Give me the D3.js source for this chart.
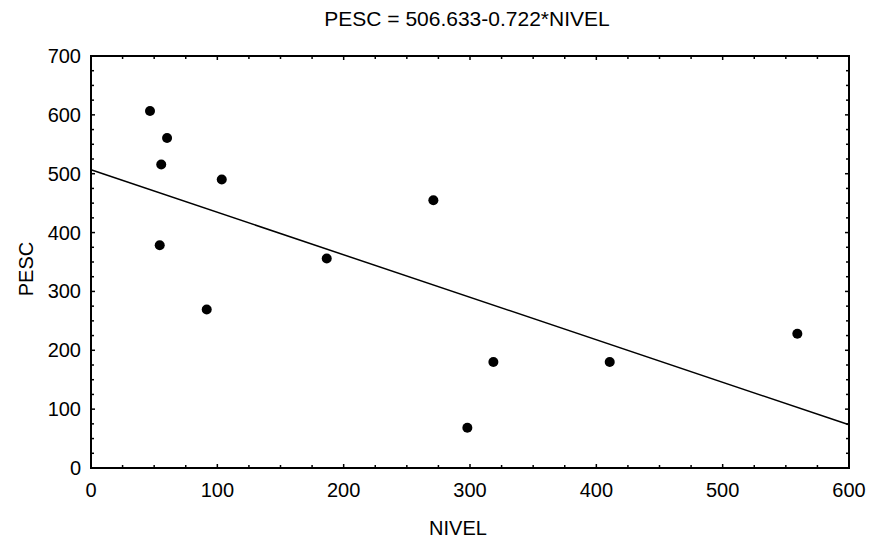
<!DOCTYPE html>
<html>
<head>
<meta charset="utf-8">
<script src="https://cdn.jsdelivr.net/npm/d3@7"></script>
<style>
  body { margin: 0; background: #fff; }
  text { font-family: "Liberation Sans", Arial, sans-serif; fill: #000; }
</style>
</head>
<body>
<div id="chart"></div>
<script>
// data
var nivel = [46.7, 60.2, 55.6, 103.5, 54.4, 91.6, 271, 186.6, 318.5, 410.6, 297.9, 559.1];
var pesc  = [606.6, 560.8, 515.6, 490.2, 378.6, 269.4, 455, 356, 180, 180, 68.4, 228];
var xTicks = [0, 100, 200, 300, 400, 500, 600];
var yTicks = [0, 100, 200, 300, 400, 500, 600, 700];
var intercept = 506.633, slope = -0.722;

var width = 874, height = 540;
var margin = { top: 56, right: 25, bottom: 72, left: 91 };
var w = width - margin.left - margin.right,
    h = height - margin.top - margin.bottom;

var svg = d3.select("#chart").append("svg")
    .attr("width", width).attr("height", height);
var g = svg.append("g")
    .attr("transform", "translate(" + margin.left + "," + margin.top + ")");

var x = d3.scaleLinear().domain([0, 600]).range([0, w]);
var y = d3.scaleLinear().domain([0, 700]).range([h, 0]);

// ticks every 25 on every side, pointing inward
var minor = d3.range(0, 601, 25), minorY = d3.range(0, 701, 25);
function tickLen(d) { return d % 100 === 0 ? 4 : 3; }

g.selectAll(".tx").data(minor).enter().append("line")
    .attr("x1", d => x(d)).attr("x2", d => x(d))
    .attr("y1", h).attr("y2", d => h - tickLen(d))
    .attr("stroke", "#000").attr("stroke-width", 1.5);
g.selectAll(".txt").data(minor).enter().append("line")
    .attr("x1", d => x(d)).attr("x2", d => x(d))
    .attr("y1", 0).attr("y2", d => tickLen(d))
    .attr("stroke", "#000").attr("stroke-width", 1.5);
g.selectAll(".ty").data(minorY).enter().append("line")
    .attr("y1", d => y(d)).attr("y2", d => y(d))
    .attr("x1", 0).attr("x2", d => tickLen(d))
    .attr("stroke", "#000").attr("stroke-width", 1.5);
g.selectAll(".tyr").data(minorY).enter().append("line")
    .attr("y1", d => y(d)).attr("y2", d => y(d))
    .attr("x1", w).attr("x2", d => w - tickLen(d))
    .attr("stroke", "#000").attr("stroke-width", 1.5);

// tick labels
g.selectAll(".xl").data(xTicks).enter().append("text")
    .attr("x", d => x(d)).attr("y", h + 29)
    .attr("text-anchor", "middle").attr("font-size", "20px")
    .text(d => d);
g.selectAll(".yl").data(yTicks).enter().append("text")
    .attr("x", -10).attr("y", d => y(d) + 7)
    .attr("text-anchor", "end").attr("font-size", "20px")
    .text(d => d);

// regression line
g.append("line")
    .attr("x1", x(0)).attr("y1", y(intercept))
    .attr("x2", x(600)).attr("y2", y(intercept + slope * 600))
    .attr("stroke", "#000").attr("stroke-width", 1.5);

// points
g.selectAll(".pt").data(nivel).enter().append("circle")
    .attr("cx", d => x(d))
    .attr("cy", (d, i) => y(pesc[i]))
    .attr("r", 5).attr("fill", "#000");

// frame
g.append("rect")
    .attr("width", w).attr("height", h)
    .attr("fill", "none").attr("stroke", "#000").attr("stroke-width", 2);

// titles
svg.append("text")
    .attr("x", 467).attr("y", 26)
    .attr("text-anchor", "middle").attr("font-size", "21px")
    .text("PESC = 506.633-0.722*NIVEL");
svg.append("text")
    .attr("x", 458).attr("y", 535)
    .attr("text-anchor", "middle").attr("font-size", "20px")
    .text("NIVEL");
svg.append("text")
    .attr("transform", "translate(33,269) rotate(-90)")
    .attr("text-anchor", "middle").attr("font-size", "20px")
    .text("PESC");
</script>
</body>
</html>
